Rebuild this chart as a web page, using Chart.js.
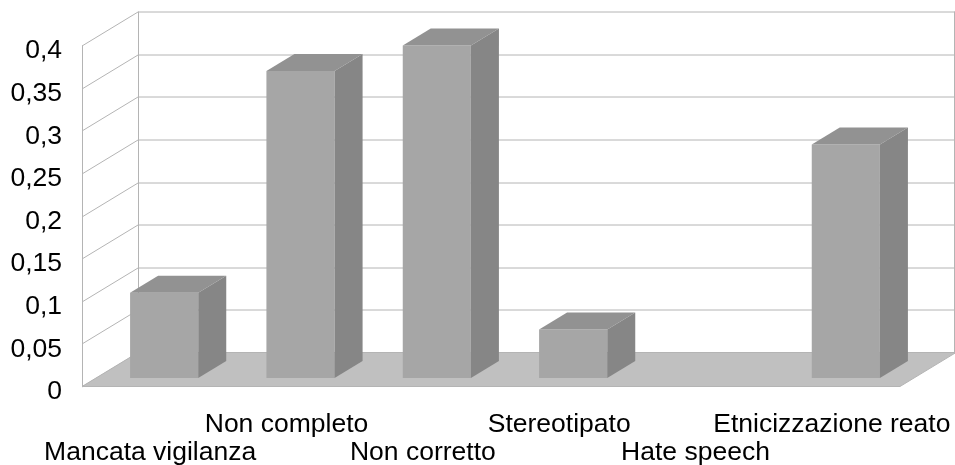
<!DOCTYPE html>
<html>
<head>
<meta charset="utf-8">
<script src="https://cdn.jsdelivr.net/npm/chart.js@4/dist/chart.umd.min.js"></script>
<style>
  html, body { margin: 0; padding: 0; background: #ffffff; }
  #wrap { width: 955px; height: 465px; }
</style>
</head>
<body>
<div id="wrap"><canvas id="c" width="955" height="465"></canvas></div>
<script>
// Categories and values
const categories = ['Mancata vigilanza', 'Non completo', 'Non corretto', 'Stereotipato', 'Hate speech', 'Etnicizzazione reato'];
const values = [0.1, 0.36, 0.39, 0.057, 0, 0.274];
const yTicks = [0, 0.05, 0.1, 0.15, 0.2, 0.25, 0.3, 0.35, 0.4];

// Depth of the 3D box: the scale plane sits at 1/4 of the depth,
// bars occupy the middle half of it.
const DEPTH_X = 56, DEPTH_Y = -34;
const PLANE = 0.25;
function shift(d) { return { x: (d - PLANE) * DEPTH_X, y: (d - PLANE) * DEPTH_Y }; }

const box3d = {
  id: 'box3d',
  beforeDatasetsDraw(chart) {
    const ctx = chart.ctx, xs = chart.scales.x, ys = chart.scales.y;
    const f = shift(0), b = shift(1);
    const L = xs.left, R = xs.right;
    const y0 = ys.getPixelForValue(0), yTop = ys.getPixelForValue(0.4);
    ctx.save();
    ctx.lineWidth = 1;
    ctx.strokeStyle = '#b4b4b4';
    // back wall and left side wall grid lines
    yTicks.forEach(v => {
      const y = Math.round(ys.getPixelForValue(v)) + 0.5;
      ctx.beginPath();
      ctx.moveTo(L + f.x, y + f.y);
      ctx.lineTo(L + b.x, y + b.y);
      ctx.lineTo(R + b.x, y + b.y);
      ctx.stroke();
    });
    // wall edges
    ctx.beginPath();
    ctx.moveTo(Math.round(L + f.x) + 0.5, yTop + f.y);
    ctx.lineTo(Math.round(L + f.x) + 0.5, y0 + f.y);
    ctx.moveTo(Math.round(L + b.x) + 0.5, yTop + b.y);
    ctx.lineTo(Math.round(L + b.x) + 0.5, y0 + b.y);
    ctx.moveTo(Math.round(R + b.x) - 1.5, yTop + b.y);
    ctx.lineTo(Math.round(R + b.x) - 1.5, y0 + b.y);
    ctx.stroke();
    // floor
    ctx.beginPath();
    ctx.moveTo(L + f.x, y0 + f.y);
    ctx.lineTo(L + b.x, y0 + b.y);
    ctx.lineTo(R + b.x, y0 + b.y);
    ctx.lineTo(R + f.x, y0 + f.y);
    ctx.closePath();
    ctx.fillStyle = '#c0c0c0';
    ctx.fill();
    ctx.strokeStyle = '#b4b4b4';
    ctx.stroke();
    ctx.restore();
  },
  afterDatasetsDraw(chart) {
    const ctx = chart.ctx;
    const meta = chart.getDatasetMeta(0);
    const d = shift(0.75);
    const dx = d.x, dy = d.y;
    ctx.save();
    meta.data.forEach((bar, i) => {
      if (!chart.data.datasets[0].data[i]) return;
      const p = bar.getProps(['x', 'y', 'base', 'width'], true);
      const l = p.x - p.width / 2, r = p.x + p.width / 2, t = p.y, btm = p.base;
      // top face
      ctx.beginPath();
      ctx.moveTo(l, t);
      ctx.lineTo(l + dx, t + dy);
      ctx.lineTo(r + dx, t + dy);
      ctx.lineTo(r, t);
      ctx.closePath();
      ctx.fillStyle = '#929292';
      ctx.fill();
      // side face
      ctx.beginPath();
      ctx.moveTo(r, t);
      ctx.lineTo(r + dx, t + dy);
      ctx.lineTo(r + dx, btm + dy);
      ctx.lineTo(r, btm);
      ctx.closePath();
      ctx.fillStyle = '#868686';
      ctx.fill();
    });
    ctx.restore();
  }
};

const FONT = { family: "'Liberation Sans', Arial, sans-serif", size: 26.5, lineHeight: 1.08 };

new Chart(document.getElementById('c'), {
  type: 'bar',
  data: {
    labels: categories,
    datasets: [{
      data: values,
      backgroundColor: '#a6a6a6',
      borderWidth: 0,
      categoryPercentage: 1,
      barPercentage: 0.5
    }]
  },
  options: {
    responsive: false,
    animation: false,
    events: [],
    layout: { padding: { top: 37, right: 41, left: 0, bottom: 0 } },
    plugins: { legend: { display: false }, tooltip: { enabled: false } },
    scales: {
      x: {
        grid: { display: false, drawTicks: false },
        border: { display: false },
        ticks: {
          autoSkip: false,
          minRotation: 0,
          maxRotation: 0,
          padding: 32,
          labelOffset: -14,
          color: '#000000',
          font: FONT,
          callback(value, index) {
            const name = this.getLabelForValue(value);
            return index % 2 === 0 ? ['', name] : [name];
          }
        },
        afterFit(scale) {
          scale.height = 87;
          scale.paddingLeft = 0;
          scale.paddingRight = 0;
        }
      },
      y: {
        min: 0,
        max: 0.4,
        grid: { display: false, drawTicks: false },
        border: { display: false },
        ticks: {
          stepSize: 0.05,
          padding: 34,
          labelOffset: 14,
          color: '#000000',
          font: FONT,
          callback(value) {
            return String(Math.round(value * 100) / 100).replace('.', ',');
          }
        },
        afterFit(scale) {
          scale.width = 96;
          scale.paddingTop = 0;
          scale.paddingBottom = 0;
        }
      }
    }
  },
  plugins: [box3d]
});
</script>
</body>
</html>
